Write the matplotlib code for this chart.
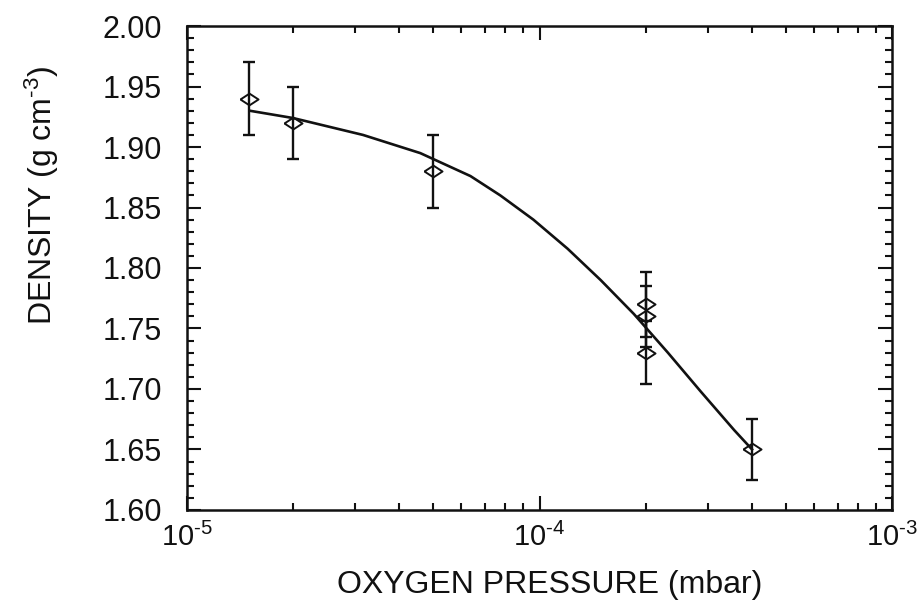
import matplotlib
matplotlib.use('Agg')
import matplotlib.pyplot as plt
import numpy as np
from matplotlib.ticker import LogLocator, MultipleLocator, FuncFormatter

plt.rcParams['font.family'] = ['Liberation Sans', 'DejaVu Sans']
plt.rcParams['mathtext.fontset'] = 'custom'
plt.rcParams['mathtext.rm'] = 'Liberation Sans'
plt.rcParams['mathtext.it'] = 'Liberation Sans'
plt.rcParams['mathtext.default'] = 'regular'

# Measured points (oxygen pressure in mbar, density in g cm^-3)
pressure = [1.5e-5, 2e-5, 5e-5, 2e-4, 2e-4, 2e-4, 4e-4]
density = [1.94, 1.92, 1.88, 1.77, 1.76, 1.73, 1.65]
density_err = [0.03, 0.03, 0.03, 0.027, 0.025, 0.026, 0.025]

# Fitted curve
curve_p = [1.51e-5, 2e-5, 3.16e-5, 4.59e-5, 6.37e-5, 7.74e-5, 9.6e-5, 1.2e-4,
           1.49e-4, 1.85e-4, 2.31e-4, 2.86e-4, 3.56e-4, 4e-4]
curve_d = [1.930, 1.924, 1.910, 1.895, 1.876, 1.860, 1.840, 1.816,
           1.790, 1.762, 1.730, 1.698, 1.666, 1.650]

fig = plt.figure(figsize=(9.2, 6.07), dpi=100)
ax = fig.add_axes([0.203, 0.160, 0.767, 0.797])

# flat open diamond like the original
diamond = [(-1, 0), (0, 0.65), (1, 0), (0, -0.65), (-1, 0)]

ax.plot(curve_p, curve_d, color='#111111', lw=1.9, zorder=2)
ax.errorbar(pressure, density, yerr=density_err, fmt='none', ecolor='#111111',
            elinewidth=1.7, capsize=4.5, capthick=1.7, zorder=3)
ax.plot(pressure, density, ls='none', marker=diamond, ms=13,
        mfc='none', mec='#111111', mew=1.4, zorder=4)

ax.set_xscale('log')
ax.set_xlim(1e-5, 1e-3)
ax.set_ylim(1.60, 2.00)
ax.yaxis.set_major_locator(MultipleLocator(0.05))
ax.yaxis.set_minor_locator(MultipleLocator(0.01))
ax.xaxis.set_major_locator(LogLocator(base=10))
ax.xaxis.set_minor_locator(LogLocator(base=10, subs=np.arange(2, 10)))
ax.xaxis.set_major_formatter(FuncFormatter(
    lambda v, pos: r'$10^{\text{-}%d}$' % round(-np.log10(v))))
ax.xaxis.set_minor_formatter(plt.NullFormatter())
ax.yaxis.set_major_formatter(plt.FormatStrFormatter('%.2f'))

ax.tick_params(which='both', direction='in', top=True, right=True, width=1.5,
               labelsize=22, colors='#111111')
ax.tick_params(which='major', length=10)
ax.tick_params(which='minor', length=5)
ax.tick_params(axis='y', which='major', pad=18)
ax.tick_params(axis='x', which='major', pad=9, labelsize=21)
for s in ax.spines.values():
    s.set_linewidth(1.8)
    s.set_color('#111111')

ax.set_xlabel('OXYGEN PRESSURE (mbar)', fontsize=23, color='#111111')
ax.set_ylabel(r'DENSITY (g cm$^{\text{-}3}$)', fontsize=23, color='#111111')
ax.xaxis.set_label_coords(0.515, -0.125)
ax.yaxis.set_label_coords(-0.178, 0.65)

plt.savefig('out.png', dpi=100)
